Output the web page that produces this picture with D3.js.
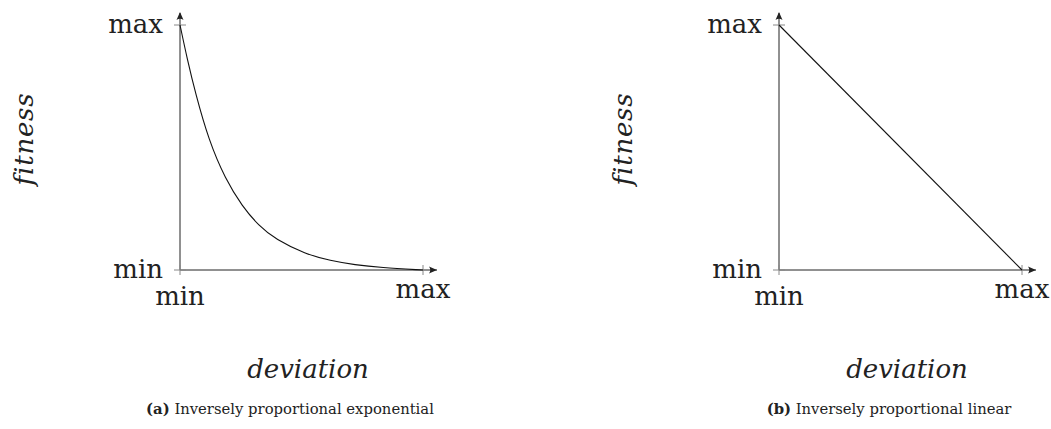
<!DOCTYPE html>
<html>
<head>
<meta charset="utf-8">
<script src="https://cdn.jsdelivr.net/npm/d3@7"></script>
<style>
  html, body { margin: 0; padding: 0; background: #fff; }
  svg { display: block; }
  text { font-family: "DejaVu Serif", serif; fill: #222; }
</style>
</head>
<body>
<svg id="chart" width="1051" height="429"></svg>
<script>
// Tick labels shared by both panels
const tickLabels = ["min", "max"];

// Panel (a): fitness falls off exponentially with deviation
const expDeviation = [0, 0.03, 0.064, 0.118, 0.187, 0.256, 0.325, 0.393, 0.516, 0.619, 0.72, 0.825, 1];
const expFitness   = [1, 0.86, 0.72, 0.53, 0.37, 0.26, 0.18, 0.125, 0.065, 0.038, 0.021, 0.01, 0];

// Panel (b): fitness falls off linearly with deviation
const linDeviation = [0, 1];
const linFitness   = [1, 0];

const panels = [
  { originX: 180, letter: "(a)", caption: " Inversely proportional exponential",
    xs: expDeviation, ys: expFitness },
  { originX: 779, letter: "(b)", caption: " Inversely proportional linear",
    xs: linDeviation, ys: linFitness }
];

const svg = d3.select("#chart");
const axisLen = 243;
const originY = 270;
const topY = 25;
const arrowExtra = 14;

panels.forEach(p => {
  const x = d3.scaleLinear().domain([0, 1]).range([p.originX, p.originX + axisLen]);
  const y = d3.scaleLinear().domain([0, 1]).range([originY, topY]);
  const g = svg.append("g");

  // axis lines with arrow extension
  g.append("line")
    .attr("x1", x(0)).attr("y1", y(0))
    .attr("x2", x(1) + arrowExtra).attr("y2", y(0))
    .attr("stroke", "#222").attr("stroke-width", 1);
  g.append("line")
    .attr("x1", x(0)).attr("y1", y(0))
    .attr("x2", x(0)).attr("y2", y(1) - arrowExtra + 2)
    .attr("stroke", "#222").attr("stroke-width", 1);

  // arrow heads
  const ax = x(1) + arrowExtra, ay = y(0);
  g.append("path")
    .attr("d", `M${ax},${ay} L${ax - 8},${ay - 3.5} Q${ax - 5.5},${ay} ${ax - 8},${ay + 3.5} Z`)
    .attr("fill", "#222");
  const bx = x(0), by = y(1) - arrowExtra + 1;
  g.append("path")
    .attr("d", `M${bx},${by} L${bx - 3.5},${by + 8} Q${bx},${by + 5.5} ${bx + 3.5},${by + 8} Z`)
    .attr("fill", "#222");

  // tick marks
  [0, 1].forEach(v => {
    g.append("line")
      .attr("x1", x(v)).attr("x2", x(v))
      .attr("y1", y(0) - 5).attr("y2", y(0) + 5)
      .attr("stroke", "#888").attr("stroke-width", 1);
    g.append("line")
      .attr("x1", x(0) - 6).attr("x2", x(0) + 6)
      .attr("y1", y(v)).attr("y2", y(v))
      .attr("stroke", "#888").attr("stroke-width", 1);
  });

  // y tick labels
  [0, 1].forEach((v, i) => {
    g.append("text")
      .attr("x", x(0) - 17).attr("y", y(v) + 8)
      .attr("text-anchor", "end")
      .attr("font-size", 26)
      .text(tickLabels[i]);
  });
  // x tick labels
  g.append("text")
    .attr("x", x(0)).attr("y", y(0) + 35)
    .attr("text-anchor", "middle").attr("font-size", 26)
    .text(tickLabels[0]);
  g.append("text")
    .attr("x", x(1)).attr("y", y(0) + 28)
    .attr("text-anchor", "middle").attr("font-size", 26)
    .text(tickLabels[1]);

  // the fitness curve
  const pts = p.xs.map((d, i) => [d, p.ys[i]]);
  const line = d3.line()
    .x(d => x(d[0])).y(d => y(d[1]))
    .curve(pts.length > 2 ? d3.curveBasis : d3.curveLinear);
  g.append("path")
    .datum(pts)
    .attr("d", line)
    .attr("fill", "none")
    .attr("stroke", "#111").attr("stroke-width", 1.1);

  // axis titles
  g.append("text")
    .attr("transform", `translate(${p.originX - 147},139) rotate(-90)`)
    .attr("text-anchor", "middle")
    .attr("font-size", 26).attr("font-style", "italic")
    .attr("letter-spacing", 0.8)
    .text("fitness");
  g.append("text")
    .attr("x", p.originX + 128).attr("y", 378)
    .attr("text-anchor", "middle")
    .attr("font-size", 26).attr("font-style", "italic")
    .text("deviation");

  // caption
  const cap = g.append("text")
    .attr("x", p.originX + 110).attr("y", 414)
    .attr("text-anchor", "middle")
    .attr("font-size", 14.8);
  cap.append("tspan").attr("font-weight", "bold").text(p.letter);
  cap.append("tspan").text(p.caption);
});
</script>
</body>
</html>
